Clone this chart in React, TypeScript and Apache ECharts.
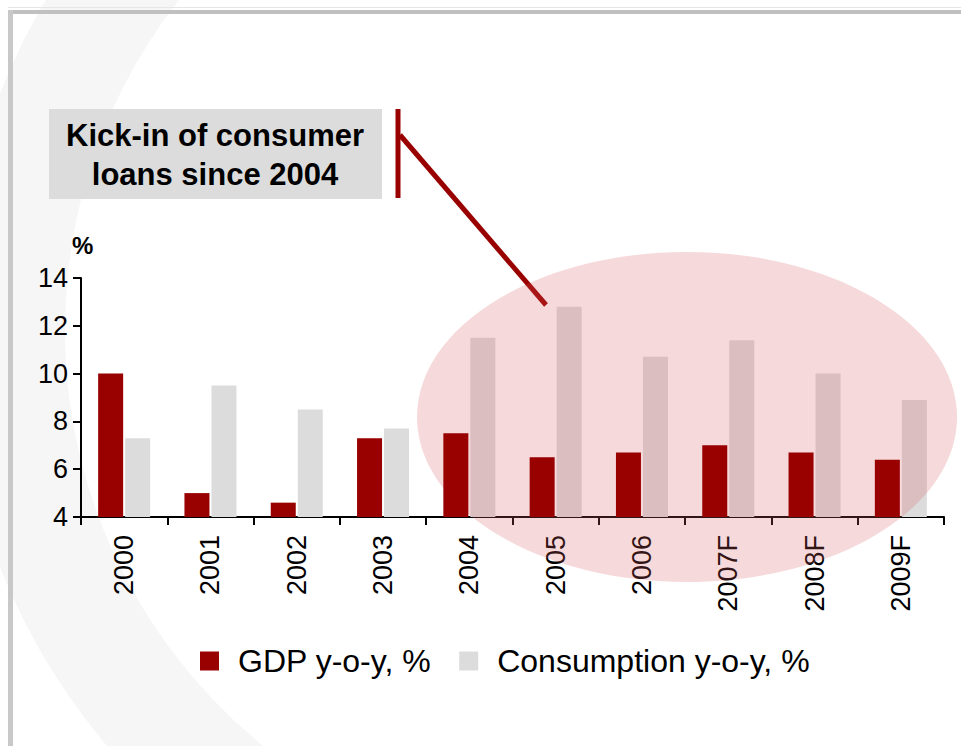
import React, { useEffect, useRef } from "react";
import * as echarts from "echarts";

const categories = ["2000", "2001", "2002", "2003", "2004", "2005", "2006", "2007F", "2008F", "2009F"];
const gdpValues = [10.0, 5.0, 4.6, 7.3, 7.5, 6.5, 6.7, 7.0, 6.7, 6.4];
const consumptionValues = [7.3, 9.5, 8.5, 7.7, 11.5, 12.8, 10.7, 11.4, 10.0, 8.9];
const seriesNames = ["GDP y-o-y, %", "Consumption y-o-y, %"];
const annotationLines = ["Kick-in of consumer", "loans since 2004"];
const yUnit = "%";

export default function App() {
  const ref = useRef<HTMLDivElement>(null);
  useEffect(() => {
    document.body.style.margin = "0";
    const chart = echarts.init(ref.current!, undefined, { renderer: "svg" });
    const font = "Liberation Sans, Arial, sans-serif";
    chart.setOption({
      animation: false,
      backgroundColor: "#ffffff",
      textStyle: { fontFamily: font },
      grid: { left: 81, right: 17, top: 278, bottom: 229, containLabel: false },
      legend: {
        left: 195,
        top: 640,
        itemWidth: 19,
        itemHeight: 19,
        itemGap: 28,
        icon: "rect",
        textStyle: { fontSize: 32, lineHeight: 32, color: "#000", fontFamily: font, padding: [0, 0, 0, 14] },
        data: seriesNames,
      },
      xAxis: {
        type: "category",
        data: categories,
        axisLine: { lineStyle: { color: "#000", width: 2 } },
        axisTick: { show: true, length: 8, lineStyle: { color: "#000", width: 2 }, alignWithLabel: false },
        axisLabel: {
          rotate: 90,
          margin: 18,
          fontSize: 27,
          color: "#000",
          fontFamily: font,
          interval: 0,
          padding: [8, 0, 0, 0],
        },
        splitLine: { show: false },
      },
      yAxis: {
        type: "value",
        min: 4,
        max: 14,
        interval: 2,
        axisLine: { show: true, lineStyle: { color: "#000", width: 2 } },
        axisTick: { show: true, length: 8, lineStyle: { color: "#000", width: 2 } },
        axisLabel: { fontSize: 27, color: "#000", margin: 13, fontFamily: font },
        splitLine: { show: false },
      },
      series: [
        {
          name: seriesNames[0],
          type: "bar",
          z: 110,
          data: gdpValues,
          barWidth: 25,
          barGap: "8%",
          itemStyle: { color: "#990000" },
        },
        {
          name: seriesNames[1],
          type: "bar",
          data: consumptionValues,
          barWidth: 25,
          barGap: "8%",
          itemStyle: { color: "#dcdcdc" },
        },
      ],
      graphic: [
        {
          type: "arc",
          z: -10,
          silent: true,
          shape: { cx: 600, cy: 330, r: 590, startAngle: 1.75, endAngle: 4.75, clockwise: true },
          style: { fill: "none", stroke: "#f6f6f7", lineWidth: 110 },
        },
        {
          type: "rect",
          z: 50,
          shape: { x: 8, y: 7, width: 953, height: 1 },
          style: { fill: "#e6e6e6" },
        },
        {
          type: "rect",
          z: 50,
          shape: { x: 8, y: 10, width: 953, height: 4 },
          style: { fill: "#c0c0c0" },
        },
        {
          type: "rect",
          z: 50,
          shape: { x: 8, y: 10, width: 5, height: 736 },
          style: { fill: "#c8c8c8" },
        },
        {
          type: "rect",
          z: 50,
          shape: { x: 49, y: 109, width: 333, height: 90 },
          style: { fill: "#dcdcdc" },
        },
        {
          type: "text",
          z: 51,
          x: 215,
          y: 135,
          style: {
            text: annotationLines[0],
            font: `bold 31px ${font}`,
            fill: "#000",
            textAlign: "center",
            textVerticalAlign: "middle",
          },
        },
        {
          type: "text",
          z: 51,
          x: 215,
          y: 174,
          style: {
            text: annotationLines[1],
            font: `bold 31px ${font}`,
            fill: "#000",
            textAlign: "center",
            textVerticalAlign: "middle",
          },
        },
        {
          type: "line",
          z: 60,
          shape: { x1: 398, y1: 109, x2: 398, y2: 198 },
          style: { stroke: "#990000", lineWidth: 5 },
        },
        {
          type: "line",
          z: 60,
          shape: { x1: 400, y1: 135, x2: 546, y2: 305 },
          style: { stroke: "#990000", lineWidth: 5 },
        },
        {
          type: "text",
          z: 51,
          x: 72,
          y: 245,
          style: {
            text: yUnit,
            font: `bold 24px ${font}`,
            fill: "#000",
            textAlign: "left",
            textVerticalAlign: "middle",
          },
        },
        {
          type: "ellipse",
          z: 100,
          silent: true,
          shape: { cx: 687, cy: 417, rx: 270, ry: 165 },
          style: { fill: "rgba(216,90,94,0.23)" },
        },
      ],
    });
    return () => chart.dispose();
  }, []);
  return <div ref={ref} style={{ width: 961, height: 746 }} />;
}
